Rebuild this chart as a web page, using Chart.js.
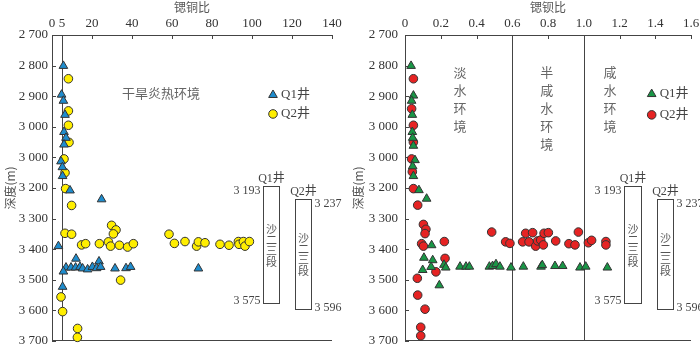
<!DOCTYPE html>
<html>
<head>
<meta charset="utf-8">
<script src="https://cdn.jsdelivr.net/npm/chart.js@4/dist/chart.umd.min.js"></script>
<style>
  html, body { margin: 0; padding: 0; background: #fff; }
  #wrap { position: relative; width: 700px; height: 347px; }
  .panel { position: absolute; top: 0; width: 350px; height: 347px; }
</style>
</head>
<body>
<div id="wrap">
  <div class="panel" style="left:0"><canvas id="cu-Chart" width="350" height="347"></canvas></div>
  <div class="panel" style="left:350px"><canvas id="ba-Chart" width="350" height="347"></canvas></div>
</div>
<script>
// 深度軸
const depthTicks = [2700, 2800, 2900, 3000, 3100, 3200, 3300, 3400, 3500, 3600, 3700];
const depthTickLabels = ["2 700", "2 800", "2 900", "3 000", "3 000", "3 200", "3 300", "3 400", "3 500", "3 600", "3 700"];

// 锶铜比 軸
const cuTicks = [0, 5, 20, 40, 60, 80, 100, 120, 140];
const cuTickLabels = ["0", "5", "20", "40", "60", "80", "100", "120", "140"];
// 锶钡比 軸
const baTicks = [0, 0.2, 0.4, 0.6, 0.8, 1.0, 1.2, 1.4, 1.6];
const baTickLabels = ["0", "0.2", "0.4", "0.6", "0.8", "1.0", "1.2", "1.4", "1.6"];

const wellNames = ["Q1井", "Q2井"];
const formationName = "沙二三段";
const formationTop = [3193, 3237];
const formationBase = [3575, 3596];

// Q1井 锶铜比
const q1CuRatio = [5.7, 4.8, 5.7, 6.5, 6, 7, 6, 4.5, 5.2, 5.3, 9, 24.8, 3.2, 12, 23.5, 7, 9.5, 11.8, 14, 15.3, 17.8, 20.2, 22.3, 24.3, 31.5, 37, 39.3, 73.2, 5.7, 5.3];
const q1CuDepth = [2801, 2895, 2915, 2961, 3017, 3036, 3058, 3113, 3132, 3161, 3208, 3237, 3390, 3431, 3440, 3460, 3460, 3460, 3458, 3463, 3466, 3458, 3462, 3458, 3463, 3462, 3458, 3463, 3473, 3523];
// Q2井 锶铜比
const q2CuRatio = [8.2, 8.2, 8.2, 8.5, 6, 6.5, 6.8, 9.8, 29.8, 32, 6.5, 9.8, 30.7, 14.8, 16.8, 23.7, 28.2, 29.3, 33.7, 37.8, 40.7, 58.5, 61.2, 66.5, 72.3, 73.2, 76.5, 84, 88.5, 93.2, 93.5, 95.7, 96.5, 98.7, 34.3, 4.5, 5.3, 12.8, 12.7];
const q2CuDepth = [2843, 2948, 2995, 3051, 3105, 3150, 3202, 3257, 3322, 3337, 3348, 3351, 3350, 3386, 3382, 3382, 3376, 3390, 3387, 3393, 3382, 3351, 3381, 3375, 3390, 3376, 3379, 3384, 3387, 3375, 3384, 3375, 3390, 3375, 3501, 3556, 3604, 3659, 3688];

// Q1井 锶钡比
const q1BaRatio = [0.034, 0.047, 0.037, 0.041, 0.041, 0.043, 0.047, 0.056, 0.043, 0.047, 0.078, 0.121, 0.149, 0.106, 0.155, 0.099, 0.146, 0.218, 0.228, 0.192, 0.308, 0.341, 0.36, 0.472, 0.49, 0.509, 0.531, 0.593, 0.662, 0.761, 0.768, 0.839, 0.882, 0.979, 1.011, 1.132];
const q1BaDepth = [2801, 2898, 2915, 2961, 3017, 3036, 3062, 3109, 3129, 3161, 3207, 3235, 3387, 3428, 3436, 3468, 3458, 3451, 3460, 3518, 3457, 3457, 3457, 3457, 3455, 3449, 3457, 3460, 3457, 3457, 3452, 3455, 3455, 3460, 3457, 3460];
// Q2井 锶钡比
const q2BaRatio = [0.047, 0.037, 0.047, 0.047, 0.037, 0.041, 0.047, 0.071, 0.103, 0.117, 0.112, 0.093, 0.103, 0.22, 0.224, 0.173, 0.069, 0.071, 0.112, 0.088, 0.088, 0.485, 0.563, 0.587, 0.658, 0.675, 0.694, 0.714, 0.731, 0.742, 0.759, 0.774, 0.778, 0.802, 0.843, 0.917, 0.951, 0.97, 1.026, 1.044, 1.124, 1.124];
const q2BaDepth = [2843, 2941, 2995, 3050, 3105, 3147, 3202, 3256, 3319, 3335, 3349, 3382, 3390, 3375, 3430, 3474, 3495, 3550, 3596, 3655, 3683, 3344, 3376, 3381, 3376, 3348, 3376, 3346, 3390, 3373, 3370, 3386, 3348, 3346, 3373, 3382, 3386, 3344, 3379, 3371, 3375, 3386];

const numFont = "'Liberation Serif', 'Times New Roman', serif";
const cjkFont = "'Noto Sans CJK SC', sans-serif";
const mixFont = "'Liberation Serif', 'Noto Sans CJK SC', serif";

const toPoints = (xs, ys) => xs.map((v, i) => ({ x: v, y: ys[i] }));
const fmtDepth = (v) => String(v).replace(/\B(?=(\d{3})+(?!\d))/g, " ");

// 区分線・凡例・层序ボックス
const decorPlugin = {
  id: "decor",
  beforeDatasetsDraw(chart) {
    const opts = chart.config.options.plugins.decor;
    if (!opts) return;
    const { ctx, chartArea: { left, right, top, bottom }, scales: { x, y } } = chart;
    ctx.save();
    ctx.strokeStyle = "#444";
    ctx.lineWidth = 1;
    // 境界線
    opts.lines.forEach((v) => {
      const px = Math.round(x.getPixelForValue(v)) + 0.5;
      ctx.beginPath();
      ctx.moveTo(px, top);
      ctx.lineTo(px, bottom);
      ctx.stroke();
    });
    // 下の枠線
    const by = Math.round(bottom) - 0.5;
    ctx.beginPath();
    ctx.moveTo(left, by);
    ctx.lineTo(right, by);
    ctx.stroke();
    // 内向きの目盛り
    x.ticks.forEach((t) => {
      if (t.value === 0 || opts.lines.includes(t.value)) return;
      const px = Math.round(x.getPixelForValue(t.value)) + 0.5;
      ctx.beginPath();
      ctx.moveTo(px, top);
      ctx.lineTo(px, top + 4);
      ctx.stroke();
    });
    y.ticks.forEach((t) => {
      const py = Math.round(y.getPixelForValue(t.value)) + 0.5;
      ctx.beginPath();
      ctx.moveTo(left, py);
      ctx.lineTo(left + 4, py);
      ctx.stroke();
    });
    ctx.restore();
  },
  afterDatasetsDraw(chart) {
    const opts = chart.config.options.plugins.decor;
    if (!opts) return;
    const { ctx, scales: { x, y } } = chart;
    ctx.save();
    ctx.textAlign = "center";
    ctx.textBaseline = "middle";

    // 環境の文字
    ctx.fillStyle = "#666";
    ctx.font = "13px " + cjkFont;
    opts.envText.forEach((e) => {
      const px = x.getPixelForValue(e.x);
      const py = y.getPixelForValue(e.y);
      if (e.vertical) {
        [...e.text].forEach((ch, i) => ctx.fillText(ch, px, py + i * 18));
      } else {
        ctx.fillText(e.text, px, py);
      }
    });

    // 凡例
    chart.data.datasets.forEach((ds, i) => {
      const lg = opts.legend[i];
      const px = x.getPixelForValue(lg.x);
      const py = y.getPixelForValue(lg.y);
      ctx.fillStyle = ds.backgroundColor;
      ctx.strokeStyle = ds.borderColor;
      ctx.lineWidth = 1;
      Chart.helpers.drawPoint(ctx, { pointStyle: ds.pointStyle, radius: ds.pointRadius, borderWidth: 1, rotation: 0 }, px, py);
      ctx.fillStyle = "#444";
      ctx.textAlign = "left";
      ctx.font = "13px " + mixFont;
      ctx.fillText(ds.label, px + 8, py);
    });

    // 层序ボックス
    opts.boxes.forEach((b, i) => {
      const x0 = Math.round(x.getPixelForValue(b[0])) + 0.5;
      const x1 = Math.round(x.getPixelForValue(b[1])) + 0.5;
      const y0 = Math.round(y.getPixelForValue(formationTop[i])) + 0.5;
      const y1 = Math.round(y.getPixelForValue(formationBase[i])) + 0.5;
      ctx.fillStyle = "#fff";
      ctx.fillRect(x0, y0, x1 - x0, y1 - y0);
      ctx.strokeStyle = "#444";
      ctx.lineWidth = 1;
      ctx.strokeRect(x0, y0, x1 - x0, y1 - y0);

      ctx.fillStyle = "#444";
      ctx.textAlign = "center";
      ctx.font = "12px " + mixFont;
      ctx.fillText(wellNames[i], (x0 + x1) / 2, y0 - 8);

      ctx.font = "12px " + numFont;
      if (i === 0) {
        ctx.textAlign = "right";
        ctx.fillText(fmtDepth(formationTop[i]), x0 - 3, y0 + 4);
        ctx.fillText(fmtDepth(formationBase[i]), x0 - 3, y1 - 3);
      } else {
        ctx.textAlign = "left";
        ctx.fillText(fmtDepth(formationTop[i]), x1 + 3, y0 + 4);
        ctx.fillText(fmtDepth(formationBase[i]), x1 + 3, y1 - 2);
      }

      ctx.fillStyle = "#555";
      ctx.textAlign = "center";
      ctx.font = "11px " + cjkFont;
      const cy = (y0 + y1) / 2;
      const chars = [...formationName];
      chars.forEach((ch, k) => ctx.fillText(ch, (x0 + x1) / 2, cy + (k - (chars.length - 1) / 2) * 11));
    });
    ctx.restore();
  },
};
Chart.register(decorPlugin);

function makeChart(id, cfg) {
  const ctx = document.getElementById(id);
  if (!ctx) {
    console.error("Canvas element not found");
    return;
  }
  new Chart(ctx, {
    type: "scatter",
    data: {
      datasets: [
        {
          label: wellNames[0],
          data: cfg.q1,
          pointStyle: "triangle",
          pointRadius: 5,
          pointHoverRadius: 5,
          backgroundColor: cfg.colors[0],
          borderColor: "#333",
          borderWidth: 1,
          clip: false,
        },
        {
          label: wellNames[1],
          data: cfg.q2,
          pointStyle: "circle",
          pointRadius: 4.3,
          pointHoverRadius: 4.3,
          backgroundColor: cfg.colors[1],
          borderColor: "#333",
          borderWidth: 1,
          clip: false,
        },
      ],
    },
    options: {
      responsive: false,
      animation: false,
      events: [],
      layout: { padding: { top: 0, left: 0, right: cfg.padRight, bottom: 5 } },
      scales: {
        x: {
          type: "linear",
          position: "top",
          min: cfg.xTicks[0],
          max: cfg.xTicks[cfg.xTicks.length - 1],
          afterBuildTicks: (scale) => {
            scale.ticks = cfg.xTicks.map((v) => ({ value: v }));
          },
          afterFit: (scale) => {
            scale.height = 35;
            scale.paddingLeft = 0;
            scale.paddingRight = 0;
          },
          grid: { display: false, drawTicks: false },
          border: { display: true, color: "#444", width: 1 },
          ticks: {
            autoSkip: false,
            maxRotation: 0,
            padding: 4,
            color: "#333",
            font: { family: numFont, size: 13 },
            callback: (v, i) => cfg.xLabels[i],
          },
          title: {
            display: true,
            text: cfg.xTitle,
            color: "#555",
            padding: { top: 0, bottom: 0 },
            font: { family: cjkFont, size: 12 },
          },
        },
        y: {
          type: "linear",
          reverse: true,
          min: 2700,
          max: 3700,
          afterBuildTicks: (scale) => {
            scale.ticks = depthTicks.map((v) => ({ value: v }));
          },
          afterFit: (scale) => {
            scale.width = cfg.yWidth;
            scale.paddingTop = 0;
            scale.paddingBottom = 0;
          },
          grid: { display: false, drawTicks: false },
          border: { display: true, color: "#444", width: 1 },
          ticks: {
            autoSkip: false,
            padding: cfg.yPad,
            color: "#333",
            font: { family: numFont, size: 13 },
            callback: (v, i) => depthTickLabels[i],
          },
          title: {
            display: true,
            text: "深度(m)",
            color: "#555",
            padding: { top: cfg.yTitlePad, bottom: 0 },
            font: { family: cjkFont, size: 12 },
          },
        },
      },
      plugins: {
        legend: { display: false },
        tooltip: { enabled: false },
        decor: cfg.decor,
      },
    },
  });
}

document.addEventListener("DOMContentLoaded", () => {
  // 锶铜比
  makeChart("cu-Chart", {
    q1: toPoints(q1CuRatio, q1CuDepth),
    q2: toPoints(q2CuRatio, q2CuDepth),
    colors: ["rgb(30, 140, 205)", "rgb(255, 238, 0)"],
    xTicks: cuTicks,
    xLabels: cuTickLabels,
    xTitle: "锶铜比",
    padRight: 18,
    yWidth: 52,
    yPad: 4,
    yTitlePad: 3,
    decor: {
      lines: [5],
      envText: [{ x: 54.5, y: 2889, text: "干旱炎热环境", vertical: false }],
      legend: [{ x: 110.5, y: 2896 }, { x: 110.5, y: 2958 }],
      boxes: [[105.3, 113.7], [121.7, 129.5]],
    },
  });

  // 锶钡比
  makeChart("ba-Chart", {
    q1: toPoints(q1BaRatio, q1BaDepth),
    q2: toPoints(q2BaRatio, q2BaDepth),
    colors: ["rgb(25, 150, 70)", "rgb(230, 35, 35)"],
    xTicks: baTicks,
    xLabels: baTickLabels,
    xTitle: "锶钡比",
    padRight: 9,
    yWidth: 55,
    yPad: 7,
    yTitlePad: 1,
    decor: {
      lines: [0.6, 1.0],
      envText: [
        { x: 0.308, y: 2820, text: "淡水环境", vertical: true },
        { x: 0.793, y: 2820, text: "半咸水环境", vertical: true },
        { x: 1.147, y: 2820, text: "咸水环境", vertical: true },
      ],
      legend: [{ x: 1.38, y: 2893 }, { x: 1.38, y: 2961 }],
      boxes: [[1.225, 1.318], [1.41, 1.497]],
    },
  });
});
</script>
</body>
</html>
